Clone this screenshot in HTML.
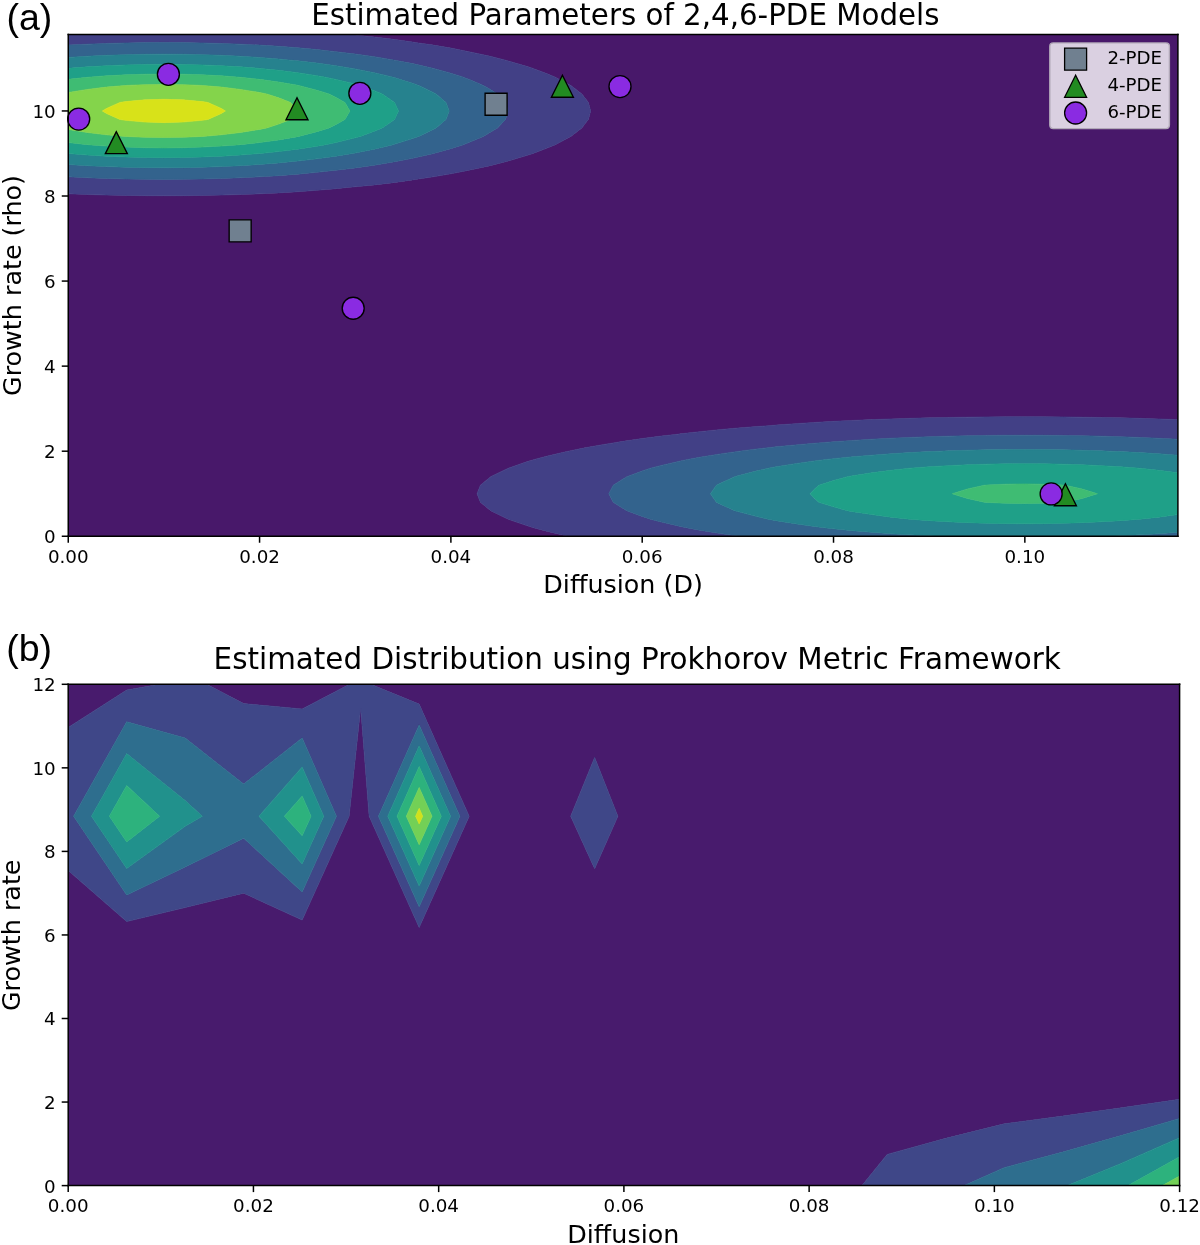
<!DOCTYPE html>
<html><head><meta charset="utf-8"><title>Estimated Parameters</title>
<style>
html,body{margin:0;padding:0;background:#fff;}
body{width:1200px;height:1245px;overflow:hidden;}
svg{display:block;}
</style></head><body>
<svg width="1200" height="1245" viewBox="0 0 1200 1245" version="1.1">
<defs>
<style type="text/css">*{stroke-linejoin: round; stroke-linecap: butt}</style>
</defs>
<g id="figure_1">
<g id="patch_1">
<path d="M 0 1245 L 1200 1245 L 1200 0 L 0 0 z" style="fill: #ffffff"/>
</g>
<g id="axes_1">
<g id="patch_2">
<path d="M 68.25 536.25 L 1177.9 536.25 L 1177.9 34.4 L 68.25 34.4 z" style="fill: #ffffff"/>
</g>
<g id="QuadContourSet_1">
<path d="M 87.38 536.25 L 106.51 536.25 L 125.65 536.25 L 144.78 536.25 L 163.91 536.25 L 183.04 536.25 L 202.17 536.25 L 221.31 536.25 L 240.44 536.25 L 259.57 536.25 L 278.7 536.25 L 297.83 536.25 L 316.96 536.25 L 336.1 536.25 L 355.23 536.25 L 374.36 536.25 L 393.49 536.25 L 412.62 536.25 L 431.76 536.25 L 450.89 536.25 L 470.02 536.25 L 489.15 536.25 L 508.28 536.25 L 527.42 536.25 L 546.55 536.25 L 565.68 536.25 L 568.3 536.25 L 565.68 535.67 L 546.55 531.17 L 533.47 527.74 L 527.42 525.82 L 508.28 519.28 L 508.17 519.24 L 490.7 510.73 L 489.15 509.43 L 480.39 502.23 L 477.05 493.72 L 480.39 485.21 L 489.15 478.01 L 490.7 476.71 L 508.17 468.2 L 508.28 468.16 L 527.42 461.62 L 533.47 459.7 L 546.55 456.27 L 565.68 451.77 L 568.3 451.19 L 584.81 447.85 L 603.94 444.43 L 614.73 442.68 L 623.08 441.35 L 642.21 438.53 L 661.34 436.05 L 677.64 434.18 L 680.47 433.83 L 699.6 431.64 L 718.73 429.7 L 737.87 428 L 757 426.5 L 768.71 425.67 L 776.13 425.07 L 795.26 423.66 L 814.39 422.42 L 833.53 421.34 L 852.66 420.41 L 871.79 419.6 L 890.92 418.9 L 910.05 418.32 L 929.19 417.84 L 948.32 417.45 L 966.61 417.17 L 967.45 417.15 L 986.58 416.88 L 1005.71 416.72 L 1024.84 416.67 L 1043.98 416.72 L 1063.11 416.88 L 1082.24 417.15 L 1083.08 417.17 L 1101.37 417.45 L 1120.5 417.84 L 1139.64 418.32 L 1158.77 418.9 L 1177.9 419.6 L 1177.9 417.17 L 1177.9 408.66 L 1177.9 400.16 L 1177.9 391.65 L 1177.9 383.14 L 1177.9 374.64 L 1177.9 366.13 L 1177.9 357.63 L 1177.9 349.12 L 1177.9 340.61 L 1177.9 332.11 L 1177.9 323.6 L 1177.9 315.1 L 1177.9 306.59 L 1177.9 298.08 L 1177.9 289.58 L 1177.9 281.07 L 1177.9 272.57 L 1177.9 264.06 L 1177.9 255.55 L 1177.9 247.05 L 1177.9 238.54 L 1177.9 230.04 L 1177.9 221.53 L 1177.9 213.02 L 1177.9 204.52 L 1177.9 196.01 L 1177.9 187.51 L 1177.9 179 L 1177.9 170.49 L 1177.9 161.99 L 1177.9 153.48 L 1177.9 144.98 L 1177.9 136.47 L 1177.9 127.97 L 1177.9 119.46 L 1177.9 110.95 L 1177.9 102.45 L 1177.9 93.94 L 1177.9 85.44 L 1177.9 76.93 L 1177.9 68.42 L 1177.9 59.92 L 1177.9 51.41 L 1177.9 42.91 L 1177.9 34.4 L 1158.77 34.4 L 1139.64 34.4 L 1120.5 34.4 L 1101.37 34.4 L 1082.24 34.4 L 1063.11 34.4 L 1043.98 34.4 L 1024.84 34.4 L 1005.71 34.4 L 986.58 34.4 L 967.45 34.4 L 948.32 34.4 L 929.19 34.4 L 910.05 34.4 L 890.92 34.4 L 871.79 34.4 L 852.66 34.4 L 833.53 34.4 L 814.39 34.4 L 795.26 34.4 L 776.13 34.4 L 757 34.4 L 737.87 34.4 L 718.73 34.4 L 699.6 34.4 L 680.47 34.4 L 661.34 34.4 L 642.21 34.4 L 623.08 34.4 L 603.94 34.4 L 584.81 34.4 L 565.68 34.4 L 546.55 34.4 L 527.42 34.4 L 508.28 34.4 L 489.15 34.4 L 470.02 34.4 L 450.89 34.4 L 431.76 34.4 L 412.62 34.4 L 393.49 34.4 L 374.36 34.4 L 355.23 34.4 L 347.32 34.4 L 355.23 35.09 L 374.36 36.99 L 393.49 39.26 L 412.62 41.98 L 418.49 42.91 L 431.76 44.83 L 450.89 48.06 L 467.66 51.41 L 470.02 51.88 L 489.15 55.99 L 504.65 59.92 L 508.28 60.9 L 527.42 66.57 L 533.1 68.42 L 546.55 73.54 L 554.85 76.93 L 565.68 82.64 L 570.88 85.44 L 581.9 93.94 L 584.81 97.87 L 588.45 102.45 L 590.68 110.95 L 588.45 119.46 L 584.81 124.04 L 581.9 127.97 L 570.88 136.47 L 565.68 139.27 L 554.85 144.98 L 546.55 148.37 L 533.1 153.48 L 527.42 155.33 L 508.28 161 L 504.65 161.99 L 489.15 165.92 L 470.02 170.03 L 467.66 170.49 L 450.89 173.85 L 431.76 177.08 L 418.49 179 L 412.62 179.93 L 393.49 182.65 L 374.36 184.92 L 355.23 186.82 L 347.32 187.51 L 336.1 188.66 L 316.96 190.35 L 297.83 191.76 L 278.7 192.9 L 259.57 193.83 L 240.44 194.56 L 221.31 195.11 L 202.17 195.49 L 183.04 195.71 L 163.91 195.79 L 144.78 195.71 L 125.65 195.49 L 106.51 195.11 L 87.38 194.56 L 68.25 193.83 L 68.25 196.01 L 68.25 204.52 L 68.25 213.02 L 68.25 221.53 L 68.25 230.04 L 68.25 238.54 L 68.25 247.05 L 68.25 255.55 L 68.25 264.06 L 68.25 272.57 L 68.25 281.07 L 68.25 289.58 L 68.25 298.08 L 68.25 306.59 L 68.25 315.1 L 68.25 323.6 L 68.25 332.11 L 68.25 340.61 L 68.25 349.12 L 68.25 357.63 L 68.25 366.13 L 68.25 374.64 L 68.25 383.14 L 68.25 391.65 L 68.25 400.16 L 68.25 408.66 L 68.25 417.17 L 68.25 425.67 L 68.25 434.18 L 68.25 442.68 L 68.25 451.19 L 68.25 459.7 L 68.25 468.2 L 68.25 476.71 L 68.25 485.21 L 68.25 493.72 L 68.25 502.23 L 68.25 510.73 L 68.25 519.24 L 68.25 527.74 L 68.25 536.25 z" clip-path="url(#pd47a79ee58)" style="fill: #48186a; stroke: #48186a; stroke-width: 0.6"/>
<path d="M 546.55 531.17 L 565.68 535.67 L 568.3 536.25 L 584.81 536.25 L 603.94 536.25 L 623.08 536.25 L 642.21 536.25 L 661.34 536.25 L 680.47 536.25 L 699.6 536.25 L 718.73 536.25 L 737.87 536.25 L 739.32 536.25 L 737.87 536.05 L 718.73 533.28 L 699.6 530.14 L 686.49 527.74 L 680.47 526.45 L 661.34 522.01 L 650.49 519.24 L 642.21 516.4 L 626.81 510.73 L 623.08 508.44 L 613.2 502.23 L 608.8 493.72 L 613.2 485.21 L 623.08 479 L 626.81 476.71 L 642.21 471.04 L 650.49 468.2 L 661.34 465.43 L 680.47 460.99 L 686.49 459.7 L 699.6 457.3 L 718.73 454.16 L 737.87 451.39 L 739.32 451.19 L 757 448.95 L 776.13 446.8 L 795.26 444.92 L 814.39 443.26 L 821.83 442.68 L 833.53 441.75 L 852.66 440.4 L 871.79 439.23 L 890.92 438.24 L 910.05 437.4 L 929.19 436.71 L 948.32 436.15 L 967.45 435.72 L 986.58 435.42 L 1005.71 435.24 L 1024.84 435.19 L 1043.98 435.24 L 1063.11 435.42 L 1082.24 435.72 L 1101.37 436.15 L 1120.5 436.71 L 1139.64 437.4 L 1158.77 438.24 L 1177.9 439.23 L 1177.9 434.18 L 1177.9 425.67 L 1177.9 419.6 L 1158.77 418.9 L 1139.64 418.32 L 1120.5 417.84 L 1101.37 417.45 L 1083.08 417.17 L 1082.24 417.15 L 1063.11 416.88 L 1043.98 416.72 L 1024.84 416.67 L 1005.71 416.72 L 986.58 416.88 L 967.45 417.15 L 966.61 417.17 L 948.32 417.45 L 929.19 417.84 L 910.05 418.32 L 890.92 418.9 L 871.79 419.6 L 852.66 420.41 L 833.53 421.34 L 814.39 422.42 L 795.26 423.66 L 776.13 425.07 L 768.71 425.67 L 757 426.5 L 737.87 428 L 718.73 429.7 L 699.6 431.64 L 680.47 433.83 L 677.64 434.18 L 661.34 436.05 L 642.21 438.53 L 623.08 441.35 L 614.73 442.68 L 603.94 444.43 L 584.81 447.85 L 568.3 451.19 L 565.68 451.77 L 546.55 456.27 L 533.47 459.7 L 527.42 461.62 L 508.28 468.16 L 508.17 468.2 L 490.7 476.71 L 489.15 478.01 L 480.39 485.21 L 477.05 493.72 L 480.39 502.23 L 489.15 509.43 L 490.7 510.73 L 508.17 519.24 L 508.28 519.28 L 527.42 525.82 L 533.47 527.74 z M 87.38 194.56 L 106.51 195.11 L 125.65 195.49 L 144.78 195.71 L 163.91 195.79 L 183.04 195.71 L 202.17 195.49 L 221.31 195.11 L 240.44 194.56 L 259.57 193.83 L 278.7 192.9 L 297.83 191.76 L 316.96 190.35 L 336.1 188.66 L 347.32 187.51 L 355.23 186.82 L 374.36 184.92 L 393.49 182.65 L 412.62 179.93 L 418.49 179 L 431.76 177.08 L 450.89 173.85 L 467.66 170.49 L 470.02 170.03 L 489.15 165.92 L 504.65 161.99 L 508.28 161 L 527.42 155.33 L 533.1 153.48 L 546.55 148.37 L 554.85 144.98 L 565.68 139.27 L 570.88 136.47 L 581.9 127.97 L 584.81 124.04 L 588.45 119.46 L 590.68 110.95 L 588.45 102.45 L 584.81 97.87 L 581.9 93.94 L 570.88 85.44 L 565.68 82.64 L 554.85 76.93 L 546.55 73.54 L 533.1 68.42 L 527.42 66.57 L 508.28 60.9 L 504.65 59.92 L 489.15 55.99 L 470.02 51.88 L 467.66 51.41 L 450.89 48.06 L 431.76 44.83 L 418.49 42.91 L 412.62 41.98 L 393.49 39.26 L 374.36 36.99 L 355.23 35.09 L 347.32 34.4 L 336.1 34.4 L 316.96 34.4 L 297.83 34.4 L 278.7 34.4 L 259.57 34.4 L 240.44 34.4 L 221.31 34.4 L 202.17 34.4 L 183.04 34.4 L 163.91 34.4 L 144.78 34.4 L 125.65 34.4 L 106.51 34.4 L 87.38 34.4 L 68.25 34.4 L 68.25 42.91 L 68.25 45.07 L 87.38 44.13 L 106.51 43.43 L 125.65 42.94 L 127.66 42.91 L 144.78 42.59 L 163.91 42.47 L 183.04 42.59 L 200.15 42.91 L 202.17 42.94 L 221.31 43.43 L 240.44 44.13 L 259.57 45.07 L 278.7 46.26 L 297.83 47.74 L 316.96 49.54 L 333.56 51.41 L 336.1 51.68 L 355.23 53.96 L 374.36 56.7 L 393.24 59.92 L 393.49 59.96 L 412.62 63.6 L 431.76 67.96 L 433.62 68.42 L 450.89 73.21 L 462.7 76.93 L 470.02 79.79 L 483.44 85.44 L 489.15 88.84 L 497.5 93.94 L 505.55 102.45 L 508.12 110.95 L 505.55 119.46 L 497.5 127.97 L 489.15 133.06 L 483.44 136.47 L 470.02 142.12 L 462.7 144.98 L 450.89 148.7 L 433.62 153.48 L 431.76 153.94 L 412.62 158.3 L 393.49 161.94 L 393.24 161.99 L 374.36 165.21 L 355.23 167.94 L 336.1 170.23 L 333.56 170.49 L 316.96 172.37 L 297.83 174.17 L 278.7 175.65 L 259.57 176.84 L 240.44 177.77 L 221.31 178.48 L 202.17 178.97 L 200.15 179 L 183.04 179.32 L 163.91 179.43 L 144.78 179.32 L 127.66 179 L 125.65 178.97 L 106.51 178.48 L 87.38 177.77 L 68.25 176.84 L 68.25 179 L 68.25 187.51 L 68.25 193.83 z" clip-path="url(#pd47a79ee58)" style="fill: #424086; stroke: #424086; stroke-width: 0.6"/>
<path d="M 699.6 530.14 L 718.73 533.28 L 737.87 536.05 L 739.32 536.25 L 757 536.25 L 776.13 536.25 L 795.26 536.25 L 814.39 536.25 L 833.53 536.25 L 852.66 536.25 L 871.79 536.25 L 890.92 536.25 L 910.05 536.25 L 929.19 536.25 L 939.78 536.25 L 929.19 535.82 L 910.05 534.85 L 890.92 533.67 L 871.79 532.28 L 852.66 530.65 L 833.53 528.77 L 824.32 527.74 L 814.39 526.48 L 795.26 523.76 L 776.13 520.65 L 768.21 519.24 L 757 516.61 L 737.87 511.62 L 734.7 510.73 L 718.73 503.39 L 716.35 502.23 L 710.46 493.72 L 716.35 485.21 L 718.73 484.05 L 734.7 476.71 L 737.87 475.82 L 757 470.83 L 768.21 468.2 L 776.13 466.79 L 795.26 463.68 L 814.39 460.96 L 824.32 459.7 L 833.53 458.67 L 852.66 456.79 L 871.79 455.16 L 890.92 453.77 L 910.05 452.59 L 929.19 451.62 L 939.78 451.19 L 948.32 450.85 L 967.45 450.25 L 986.58 449.83 L 1005.71 449.58 L 1024.84 449.5 L 1043.98 449.58 L 1063.11 449.83 L 1082.24 450.25 L 1101.37 450.85 L 1109.91 451.19 L 1120.5 451.62 L 1139.64 452.59 L 1158.77 453.77 L 1177.9 455.16 L 1177.9 451.19 L 1177.9 442.68 L 1177.9 439.23 L 1158.77 438.24 L 1139.64 437.4 L 1120.5 436.71 L 1101.37 436.15 L 1082.24 435.72 L 1063.11 435.42 L 1043.98 435.24 L 1024.84 435.19 L 1005.71 435.24 L 986.58 435.42 L 967.45 435.72 L 948.32 436.15 L 929.19 436.71 L 910.05 437.4 L 890.92 438.24 L 871.79 439.23 L 852.66 440.4 L 833.53 441.75 L 821.83 442.68 L 814.39 443.26 L 795.26 444.92 L 776.13 446.8 L 757 448.95 L 739.32 451.19 L 737.87 451.39 L 718.73 454.16 L 699.6 457.3 L 686.49 459.7 L 680.47 460.99 L 661.34 465.43 L 650.49 468.2 L 642.21 471.04 L 626.81 476.71 L 623.08 479 L 613.2 485.21 L 608.8 493.72 L 613.2 502.23 L 623.08 508.44 L 626.81 510.73 L 642.21 516.4 L 650.49 519.24 L 661.34 522.01 L 680.47 526.45 L 686.49 527.74 z M 1120.5 536.25 L 1139.64 536.25 L 1158.77 536.25 L 1177.9 536.25 L 1177.9 532.28 L 1158.77 533.67 L 1139.64 534.85 L 1120.5 535.82 L 1109.91 536.25 z M 144.78 179.32 L 163.91 179.43 L 183.04 179.32 L 200.15 179 L 202.17 178.97 L 221.31 178.48 L 240.44 177.77 L 259.57 176.84 L 278.7 175.65 L 297.83 174.17 L 316.96 172.37 L 333.56 170.49 L 336.1 170.23 L 355.23 167.94 L 374.36 165.21 L 393.24 161.99 L 393.49 161.94 L 412.62 158.3 L 431.76 153.94 L 433.62 153.48 L 450.89 148.7 L 462.7 144.98 L 470.02 142.12 L 483.44 136.47 L 489.15 133.06 L 497.5 127.97 L 505.55 119.46 L 508.12 110.95 L 505.55 102.45 L 497.5 93.94 L 489.15 88.84 L 483.44 85.44 L 470.02 79.79 L 462.7 76.93 L 450.89 73.21 L 433.62 68.42 L 431.76 67.96 L 412.62 63.6 L 393.49 59.96 L 393.24 59.92 L 374.36 56.7 L 355.23 53.96 L 336.1 51.68 L 333.56 51.41 L 316.96 49.54 L 297.83 47.74 L 278.7 46.26 L 259.57 45.07 L 240.44 44.13 L 221.31 43.43 L 202.17 42.94 L 200.15 42.91 L 183.04 42.59 L 163.91 42.47 L 144.78 42.59 L 127.66 42.91 L 125.65 42.94 L 106.51 43.43 L 87.38 44.13 L 68.25 45.07 L 68.25 51.41 L 68.25 57.43 L 87.38 56.21 L 106.51 55.28 L 125.65 54.64 L 144.78 54.26 L 163.91 54.13 L 183.04 54.26 L 202.17 54.64 L 221.31 55.28 L 240.44 56.21 L 259.57 57.43 L 278.7 58.99 L 288.12 59.92 L 297.83 60.85 L 316.96 63.05 L 336.1 65.7 L 352.61 68.42 L 355.23 68.89 L 374.36 72.71 L 392.15 76.93 L 393.49 77.31 L 412.62 83.31 L 418.74 85.44 L 431.76 91.71 L 436.11 93.94 L 446.03 102.45 L 449.21 110.95 L 446.03 119.46 L 436.11 127.97 L 431.76 130.19 L 418.74 136.47 L 412.62 138.6 L 393.49 144.59 L 392.15 144.98 L 374.36 149.2 L 355.23 153.02 L 352.61 153.48 L 336.1 156.2 L 316.96 158.86 L 297.83 161.05 L 288.12 161.99 L 278.7 162.92 L 259.57 164.48 L 240.44 165.7 L 221.31 166.62 L 202.17 167.27 L 183.04 167.65 L 163.91 167.77 L 144.78 167.65 L 125.65 167.27 L 106.51 166.62 L 87.38 165.7 L 68.25 164.48 L 68.25 170.49 L 68.25 176.84 L 87.38 177.77 L 106.51 178.48 L 125.65 178.97 L 127.66 179 z" clip-path="url(#pd47a79ee58)" style="fill: #33638d; stroke: #33638d; stroke-width: 0.6"/>
<path d="M 833.53 528.77 L 852.66 530.65 L 871.79 532.28 L 890.92 533.67 L 910.05 534.85 L 929.19 535.82 L 939.78 536.25 L 948.32 536.25 L 967.45 536.25 L 986.58 536.25 L 1005.71 536.25 L 1024.84 536.25 L 1043.98 536.25 L 1063.11 536.25 L 1082.24 536.25 L 1101.37 536.25 L 1109.91 536.25 L 1120.5 535.82 L 1139.64 534.85 L 1158.77 533.67 L 1177.9 532.28 L 1177.9 527.74 L 1177.9 519.24 L 1177.9 514.61 L 1158.77 517.13 L 1139.87 519.24 L 1139.64 519.26 L 1120.5 520.67 L 1101.37 521.81 L 1082.24 522.68 L 1063.11 523.29 L 1043.98 523.66 L 1024.84 523.78 L 1005.71 523.66 L 986.58 523.29 L 967.45 522.68 L 948.32 521.81 L 929.19 520.67 L 910.05 519.26 L 909.82 519.24 L 890.92 517.13 L 871.79 514.61 L 852.66 511.65 L 847.39 510.73 L 833.53 506.87 L 818.74 502.23 L 814.39 498.13 L 810.03 493.72 L 814.39 489.31 L 818.74 485.21 L 833.53 480.57 L 847.39 476.71 L 852.66 475.79 L 871.79 472.83 L 890.92 470.31 L 909.82 468.2 L 910.05 468.18 L 929.19 466.77 L 948.32 465.63 L 967.45 464.76 L 986.58 464.15 L 1005.71 463.78 L 1024.84 463.66 L 1043.98 463.78 L 1063.11 464.15 L 1082.24 464.76 L 1101.37 465.63 L 1120.5 466.77 L 1139.64 468.18 L 1139.87 468.2 L 1158.77 470.31 L 1177.9 472.83 L 1177.9 468.2 L 1177.9 459.7 L 1177.9 455.16 L 1158.77 453.77 L 1139.64 452.59 L 1120.5 451.62 L 1109.91 451.19 L 1101.37 450.85 L 1082.24 450.25 L 1063.11 449.83 L 1043.98 449.58 L 1024.84 449.5 L 1005.71 449.58 L 986.58 449.83 L 967.45 450.25 L 948.32 450.85 L 939.78 451.19 L 929.19 451.62 L 910.05 452.59 L 890.92 453.77 L 871.79 455.16 L 852.66 456.79 L 833.53 458.67 L 824.32 459.7 L 814.39 460.96 L 795.26 463.68 L 776.13 466.79 L 768.21 468.2 L 757 470.83 L 737.87 475.82 L 734.7 476.71 L 718.73 484.05 L 716.35 485.21 L 710.46 493.72 L 716.35 502.23 L 718.73 503.39 L 734.7 510.73 L 737.87 511.62 L 757 516.61 L 768.21 519.24 L 776.13 520.65 L 795.26 523.76 L 814.39 526.48 L 824.32 527.74 z M 87.38 165.7 L 106.51 166.62 L 125.65 167.27 L 144.78 167.65 L 163.91 167.77 L 183.04 167.65 L 202.17 167.27 L 221.31 166.62 L 240.44 165.7 L 259.57 164.48 L 278.7 162.92 L 288.12 161.99 L 297.83 161.05 L 316.96 158.86 L 336.1 156.2 L 352.61 153.48 L 355.23 153.02 L 374.36 149.2 L 392.15 144.98 L 393.49 144.59 L 412.62 138.6 L 418.74 136.47 L 431.76 130.19 L 436.11 127.97 L 446.03 119.46 L 449.21 110.95 L 446.03 102.45 L 436.11 93.94 L 431.76 91.71 L 418.74 85.44 L 412.62 83.31 L 393.49 77.31 L 392.15 76.93 L 374.36 72.71 L 355.23 68.89 L 352.61 68.42 L 336.1 65.7 L 316.96 63.05 L 297.83 60.85 L 288.12 59.92 L 278.7 58.99 L 259.57 57.43 L 240.44 56.21 L 221.31 55.28 L 202.17 54.64 L 183.04 54.26 L 163.91 54.13 L 144.78 54.26 L 125.65 54.64 L 106.51 55.28 L 87.38 56.21 L 68.25 57.43 L 68.25 59.92 L 68.25 68.36 L 87.38 66.84 L 106.51 65.69 L 125.65 64.89 L 144.78 64.42 L 163.91 64.26 L 183.04 64.42 L 202.17 64.89 L 221.31 65.69 L 240.44 66.84 L 259.57 68.36 L 260.27 68.42 L 278.7 70.29 L 297.83 72.69 L 316.96 75.63 L 324.31 76.93 L 336.1 79.38 L 355.23 84.05 L 360.3 85.44 L 374.36 90.64 L 382.39 93.94 L 393.49 101.63 L 394.61 102.45 L 398.57 110.95 L 394.61 119.46 L 393.49 120.27 L 382.39 127.97 L 374.36 131.26 L 360.3 136.47 L 355.23 137.86 L 336.1 142.52 L 324.31 144.98 L 316.96 146.28 L 297.83 149.21 L 278.7 151.61 L 260.27 153.48 L 259.57 153.55 L 240.44 155.07 L 221.31 156.22 L 202.17 157.02 L 183.04 157.49 L 163.91 157.64 L 144.78 157.49 L 125.65 157.02 L 106.51 156.22 L 87.38 155.07 L 68.25 153.55 L 68.25 161.99 L 68.25 164.48 z" clip-path="url(#pd47a79ee58)" style="fill: #26828e; stroke: #26828e; stroke-width: 0.6"/>
<path d="M 910.05 519.26 L 929.19 520.67 L 948.32 521.81 L 967.45 522.68 L 986.58 523.29 L 1005.71 523.66 L 1024.84 523.78 L 1043.98 523.66 L 1063.11 523.29 L 1082.24 522.68 L 1101.37 521.81 L 1120.5 520.67 L 1139.64 519.26 L 1139.87 519.24 L 1158.77 517.13 L 1177.9 514.61 L 1177.9 510.73 L 1177.9 502.23 L 1177.9 493.72 L 1177.9 485.21 L 1177.9 476.71 L 1177.9 472.83 L 1158.77 470.31 L 1139.87 468.2 L 1139.64 468.18 L 1120.5 466.77 L 1101.37 465.63 L 1082.24 464.76 L 1063.11 464.15 L 1043.98 463.78 L 1024.84 463.66 L 1005.71 463.78 L 986.58 464.15 L 967.45 464.76 L 948.32 465.63 L 929.19 466.77 L 910.05 468.18 L 909.82 468.2 L 890.92 470.31 L 871.79 472.83 L 852.66 475.79 L 847.39 476.71 L 833.53 480.57 L 818.74 485.21 L 814.39 489.31 L 810.03 493.72 L 814.39 498.13 L 818.74 502.23 L 833.53 506.87 L 847.39 510.73 L 852.66 511.65 L 871.79 514.61 L 890.92 517.13 L 909.82 519.24 z M 984.33 502.23 L 967.45 498.49 L 952.16 493.72 L 967.45 488.95 L 984.33 485.21 L 986.58 485.04 L 1005.71 484.17 L 1024.84 483.88 L 1043.98 484.17 L 1063.11 485.04 L 1065.36 485.21 L 1082.24 488.95 L 1097.53 493.72 L 1082.24 498.49 L 1065.36 502.23 L 1063.11 502.4 L 1043.98 503.27 L 1024.84 503.56 L 1005.71 503.27 L 986.58 502.4 z M 87.38 155.07 L 106.51 156.22 L 125.65 157.02 L 144.78 157.49 L 163.91 157.64 L 183.04 157.49 L 202.17 157.02 L 221.31 156.22 L 240.44 155.07 L 259.57 153.55 L 260.27 153.48 L 278.7 151.61 L 297.83 149.21 L 316.96 146.28 L 324.31 144.98 L 336.1 142.52 L 355.23 137.86 L 360.3 136.47 L 374.36 131.26 L 382.39 127.97 L 393.49 120.27 L 394.61 119.46 L 398.57 110.95 L 394.61 102.45 L 393.49 101.63 L 382.39 93.94 L 374.36 90.64 L 360.3 85.44 L 355.23 84.05 L 336.1 79.38 L 324.31 76.93 L 316.96 75.63 L 297.83 72.69 L 278.7 70.29 L 260.27 68.42 L 259.57 68.36 L 240.44 66.84 L 221.31 65.69 L 202.17 64.89 L 183.04 64.42 L 163.91 64.26 L 144.78 64.42 L 125.65 64.89 L 106.51 65.69 L 87.38 66.84 L 68.25 68.36 L 68.25 68.42 L 68.25 76.93 L 68.25 79.33 L 87.38 77.25 L 91.14 76.93 L 106.51 75.78 L 125.65 74.78 L 144.78 74.19 L 163.91 74 L 183.04 74.19 L 202.17 74.78 L 221.31 75.78 L 236.68 76.93 L 240.44 77.25 L 259.57 79.33 L 278.7 81.99 L 297.83 85.28 L 298.63 85.44 L 316.96 90.23 L 329.06 93.94 L 336.1 97.5 L 344.95 102.45 L 349.95 110.95 L 344.95 119.46 L 336.1 124.4 L 329.06 127.97 L 316.96 131.68 L 298.63 136.47 L 297.83 136.63 L 278.7 139.92 L 259.57 142.57 L 240.44 144.66 L 236.68 144.98 L 221.31 146.12 L 202.17 147.12 L 183.04 147.71 L 163.91 147.91 L 144.78 147.71 L 125.65 147.12 L 106.51 146.12 L 91.14 144.98 L 87.38 144.66 L 68.25 142.57 L 68.25 144.98 L 68.25 153.48 L 68.25 153.55 z" clip-path="url(#pd47a79ee58)" style="fill: #1fa088; stroke: #1fa088; stroke-width: 0.6"/>
<path d="M 986.58 502.4 L 1005.71 503.27 L 1024.84 503.56 L 1043.98 503.27 L 1063.11 502.4 L 1065.36 502.23 L 1082.24 498.49 L 1097.53 493.72 L 1082.24 488.95 L 1065.36 485.21 L 1063.11 485.04 L 1043.98 484.17 L 1024.84 483.88 L 1005.71 484.17 L 986.58 485.04 L 984.33 485.21 L 967.45 488.95 L 952.16 493.72 L 967.45 498.49 L 984.33 502.23 z M 106.51 146.12 L 125.65 147.12 L 144.78 147.71 L 163.91 147.91 L 183.04 147.71 L 202.17 147.12 L 221.31 146.12 L 236.68 144.98 L 240.44 144.66 L 259.57 142.57 L 278.7 139.92 L 297.83 136.63 L 298.63 136.47 L 316.96 131.68 L 329.06 127.97 L 336.1 124.4 L 344.95 119.46 L 349.95 110.95 L 344.95 102.45 L 336.1 97.5 L 329.06 93.94 L 316.96 90.23 L 298.63 85.44 L 297.83 85.28 L 278.7 81.99 L 259.57 79.33 L 240.44 77.25 L 236.68 76.93 L 221.31 75.78 L 202.17 74.78 L 183.04 74.19 L 163.91 74 L 144.78 74.19 L 125.65 74.78 L 106.51 75.78 L 91.14 76.93 L 87.38 77.25 L 68.25 79.33 L 68.25 85.44 L 68.25 92.51 L 87.38 89.4 L 106.51 87.06 L 125.53 85.44 L 125.65 85.43 L 144.78 84.65 L 163.91 84.39 L 183.04 84.65 L 202.17 85.43 L 202.28 85.44 L 221.31 87.06 L 240.44 89.4 L 259.57 92.51 L 266.67 93.94 L 278.7 97.83 L 290.63 102.45 L 297.83 110.9 L 297.87 110.95 L 297.83 111 L 290.63 119.46 L 278.7 124.08 L 266.67 127.97 L 259.57 129.39 L 240.44 132.5 L 221.31 134.85 L 202.28 136.47 L 202.17 136.48 L 183.04 137.26 L 163.91 137.51 L 144.78 137.26 L 125.65 136.48 L 125.53 136.47 L 106.51 134.85 L 87.38 132.5 L 68.25 129.39 L 68.25 136.47 L 68.25 142.57 L 87.38 144.66 L 91.14 144.98 z" clip-path="url(#pd47a79ee58)" style="fill: #3fbc73; stroke: #3fbc73; stroke-width: 0.6"/>
<path d="M 125.65 136.48 L 144.78 137.26 L 163.91 137.51 L 183.04 137.26 L 202.17 136.48 L 202.28 136.47 L 221.31 134.85 L 240.44 132.5 L 259.57 129.39 L 266.67 127.97 L 278.7 124.08 L 290.63 119.46 L 297.83 111 L 297.87 110.95 L 297.83 110.9 L 290.63 102.45 L 278.7 97.83 L 266.67 93.94 L 259.57 92.51 L 240.44 89.4 L 221.31 87.06 L 202.28 85.44 L 202.17 85.43 L 183.04 84.65 L 163.91 84.39 L 144.78 84.65 L 125.65 85.43 L 125.53 85.44 L 106.51 87.06 L 87.38 89.4 L 68.25 92.51 L 68.25 93.94 L 68.25 102.45 L 68.25 110.95 L 68.25 119.46 L 68.25 127.97 L 68.25 129.39 L 87.38 132.5 L 106.51 134.85 L 125.53 136.47 z M 119.9 119.46 L 106.51 113.51 L 102.39 110.95 L 106.51 108.4 L 119.9 102.45 L 125.65 101.58 L 144.78 99.85 L 163.91 99.27 L 183.04 99.85 L 202.17 101.58 L 207.92 102.45 L 221.31 108.4 L 225.43 110.95 L 221.31 113.51 L 207.92 119.46 L 202.17 120.33 L 183.04 122.06 L 163.91 122.63 L 144.78 122.06 L 125.65 120.33 z" clip-path="url(#pd47a79ee58)" style="fill: #84d44b; stroke: #84d44b; stroke-width: 0.6"/>
<path d="M 125.65 120.33 L 144.78 122.06 L 163.91 122.63 L 183.04 122.06 L 202.17 120.33 L 207.92 119.46 L 221.31 113.51 L 225.43 110.95 L 221.31 108.4 L 207.92 102.45 L 202.17 101.58 L 183.04 99.85 L 163.91 99.27 L 144.78 99.85 L 125.65 101.58 L 119.9 102.45 L 106.51 108.4 L 102.39 110.95 L 106.51 113.51 L 119.9 119.46 z" clip-path="url(#pd47a79ee58)" style="fill: #d8e219; stroke: #d8e219; stroke-width: 0.6"/>
</g>
<g id="matplotlib.axis_1">
<g id="xtick_1">
<g id="line2d_1">

<g>
<path d="M 0 0 L 0 6.5" transform="translate(68.25 536.25)" style="stroke: #000000; stroke-width: 1.5"/>
</g>
</g>
<g id="text_1">
<text style="font-size: 18.3px; font-family: 'DejaVu Sans', 'Liberation Sans', sans-serif; text-anchor: middle" x="68.25" y="562.655141" >0.00</text>
</g>
</g>
<g id="xtick_2">
<g id="line2d_2">
<g>
<path d="M 0 0 L 0 6.5" transform="translate(259.568966 536.25)" style="stroke: #000000; stroke-width: 1.5"/>
</g>
</g>
<g id="text_2">
<text style="font-size: 18.3px; font-family: 'DejaVu Sans', 'Liberation Sans', sans-serif; text-anchor: middle" x="259.568966" y="562.655141" >0.02</text>
</g>
</g>
<g id="xtick_3">
<g id="line2d_3">
<g>
<path d="M 0 0 L 0 6.5" transform="translate(450.887931 536.25)" style="stroke: #000000; stroke-width: 1.5"/>
</g>
</g>
<g id="text_3">
<text style="font-size: 18.3px; font-family: 'DejaVu Sans', 'Liberation Sans', sans-serif; text-anchor: middle" x="450.887931" y="562.655141" >0.04</text>
</g>
</g>
<g id="xtick_4">
<g id="line2d_4">
<g>
<path d="M 0 0 L 0 6.5" transform="translate(642.206897 536.25)" style="stroke: #000000; stroke-width: 1.5"/>
</g>
</g>
<g id="text_4">
<text style="font-size: 18.3px; font-family: 'DejaVu Sans', 'Liberation Sans', sans-serif; text-anchor: middle" x="642.206897" y="562.655141" >0.06</text>
</g>
</g>
<g id="xtick_5">
<g id="line2d_5">
<g>
<path d="M 0 0 L 0 6.5" transform="translate(833.525862 536.25)" style="stroke: #000000; stroke-width: 1.5"/>
</g>
</g>
<g id="text_5">
<text style="font-size: 18.3px; font-family: 'DejaVu Sans', 'Liberation Sans', sans-serif; text-anchor: middle" x="833.525862" y="562.655141" >0.08</text>
</g>
</g>
<g id="xtick_6">
<g id="line2d_6">
<g>
<path d="M 0 0 L 0 6.5" transform="translate(1024.844828 536.25)" style="stroke: #000000; stroke-width: 1.5"/>
</g>
</g>
<g id="text_6">
<text style="font-size: 18.3px; font-family: 'DejaVu Sans', 'Liberation Sans', sans-serif; text-anchor: middle" x="1024.844828" y="562.655141" >0.10</text>
</g>
</g>
</g>
<g id="matplotlib.axis_2">
<g id="ytick_1">
<g id="line2d_7">

<g>
<path d="M 0 0 L -6.5 0" transform="translate(68.25 536.25)" style="stroke: #000000; stroke-width: 1.5"/>
</g>
</g>
<g id="text_7">
<text style="font-size: 18.3px; font-family: 'DejaVu Sans', 'Liberation Sans', sans-serif; text-anchor: end" x="55.75" y="543.20257" >0</text>
</g>
</g>
<g id="ytick_2">
<g id="line2d_8">
<g>
<path d="M 0 0 L -6.5 0" transform="translate(68.25 451.190678)" style="stroke: #000000; stroke-width: 1.5"/>
</g>
</g>
<g id="text_8">
<text style="font-size: 18.3px; font-family: 'DejaVu Sans', 'Liberation Sans', sans-serif; text-anchor: end" x="55.75" y="458.143248" >2</text>
</g>
</g>
<g id="ytick_3">
<g id="line2d_9">
<g>
<path d="M 0 0 L -6.5 0" transform="translate(68.25 366.131356)" style="stroke: #000000; stroke-width: 1.5"/>
</g>
</g>
<g id="text_9">
<text style="font-size: 18.3px; font-family: 'DejaVu Sans', 'Liberation Sans', sans-serif; text-anchor: end" x="55.75" y="373.083926" >4</text>
</g>
</g>
<g id="ytick_4">
<g id="line2d_10">
<g>
<path d="M 0 0 L -6.5 0" transform="translate(68.25 281.072034)" style="stroke: #000000; stroke-width: 1.5"/>
</g>
</g>
<g id="text_10">
<text style="font-size: 18.3px; font-family: 'DejaVu Sans', 'Liberation Sans', sans-serif; text-anchor: end" x="55.75" y="288.024604" >6</text>
</g>
</g>
<g id="ytick_5">
<g id="line2d_11">
<g>
<path d="M 0 0 L -6.5 0" transform="translate(68.25 196.012712)" style="stroke: #000000; stroke-width: 1.5"/>
</g>
</g>
<g id="text_11">
<text style="font-size: 18.3px; font-family: 'DejaVu Sans', 'Liberation Sans', sans-serif; text-anchor: end" x="55.75" y="202.965282" >8</text>
</g>
</g>
<g id="ytick_6">
<g id="line2d_12">
<g>
<path d="M 0 0 L -6.5 0" transform="translate(68.25 110.95339)" style="stroke: #000000; stroke-width: 1.5"/>
</g>
</g>
<g id="text_12">
<text style="font-size: 18.3px; font-family: 'DejaVu Sans', 'Liberation Sans', sans-serif; text-anchor: end" x="55.75" y="117.90596" >10</text>
</g>
</g>
</g>
<g id="line2d_13">

<g>
<path d="M -11 11 L 11 11 L 11 -11 L -11 -11 z" transform="translate(496.1 104.25)" style="fill: #708090; stroke: #000000; stroke-width: 1.35; stroke-linejoin: miter"/>
<path d="M -11 11 L 11 11 L 11 -11 L -11 -11 z" transform="translate(240.15 230.8)" style="fill: #708090; stroke: #000000; stroke-width: 1.35; stroke-linejoin: miter"/>
</g>
</g>
<g id="line2d_14">

<g>
<path d="M 0 -11 L -11 11 L 11 11 z" transform="translate(116.35 142.65)" style="fill: #228b22; stroke: #000000; stroke-width: 1.35; stroke-linejoin: miter"/>
<path d="M 0 -11 L -11 11 L 11 11 z" transform="translate(297 108.7)" style="fill: #228b22; stroke: #000000; stroke-width: 1.35; stroke-linejoin: miter"/>
<path d="M 0 -11 L -11 11 L 11 11 z" transform="translate(562.4 86.25)" style="fill: #228b22; stroke: #000000; stroke-width: 1.35; stroke-linejoin: miter"/>
<path d="M 0 -11 L -11 11 L 11 11 z" transform="translate(1065.4 494.7)" style="fill: #228b22; stroke: #000000; stroke-width: 1.35; stroke-linejoin: miter"/>
</g>
</g>
<g id="line2d_15">

<g>
<path d="M 0 11 C 2.92 11 5.72 9.84 7.78 7.78 C 9.84 5.72 11 2.92 11 0 C 11 -2.92 9.84 -5.72 7.78 -7.78 C 5.72 -9.84 2.92 -11 0 -11 C -2.92 -11 -5.72 -9.84 -7.78 -7.78 C -9.84 -5.72 -11 -2.92 -11 0 C -11 2.92 -9.84 5.72 -7.78 7.78 C -5.72 9.84 -2.92 11 0 11 z" transform="translate(78.7 119.1)" style="fill: #8a2be2; stroke: #000000; stroke-width: 1.35"/>
<path d="M 0 11 C 2.92 11 5.72 9.84 7.78 7.78 C 9.84 5.72 11 2.92 11 0 C 11 -2.92 9.84 -5.72 7.78 -7.78 C 5.72 -9.84 2.92 -11 0 -11 C -2.92 -11 -5.72 -9.84 -7.78 -7.78 C -9.84 -5.72 -11 -2.92 -11 0 C -11 2.92 -9.84 5.72 -7.78 7.78 C -5.72 9.84 -2.92 11 0 11 z" transform="translate(168.4 74.3)" style="fill: #8a2be2; stroke: #000000; stroke-width: 1.35"/>
<path d="M 0 11 C 2.92 11 5.72 9.84 7.78 7.78 C 9.84 5.72 11 2.92 11 0 C 11 -2.92 9.84 -5.72 7.78 -7.78 C 5.72 -9.84 2.92 -11 0 -11 C -2.92 -11 -5.72 -9.84 -7.78 -7.78 C -9.84 -5.72 -11 -2.92 -11 0 C -11 2.92 -9.84 5.72 -7.78 7.78 C -5.72 9.84 -2.92 11 0 11 z" transform="translate(359.85 93.3)" style="fill: #8a2be2; stroke: #000000; stroke-width: 1.35"/>
<path d="M 0 11 C 2.92 11 5.72 9.84 7.78 7.78 C 9.84 5.72 11 2.92 11 0 C 11 -2.92 9.84 -5.72 7.78 -7.78 C 5.72 -9.84 2.92 -11 0 -11 C -2.92 -11 -5.72 -9.84 -7.78 -7.78 C -9.84 -5.72 -11 -2.92 -11 0 C -11 2.92 -9.84 5.72 -7.78 7.78 C -5.72 9.84 -2.92 11 0 11 z" transform="translate(620 86.6)" style="fill: #8a2be2; stroke: #000000; stroke-width: 1.35"/>
<path d="M 0 11 C 2.92 11 5.72 9.84 7.78 7.78 C 9.84 5.72 11 2.92 11 0 C 11 -2.92 9.84 -5.72 7.78 -7.78 C 5.72 -9.84 2.92 -11 0 -11 C -2.92 -11 -5.72 -9.84 -7.78 -7.78 C -9.84 -5.72 -11 -2.92 -11 0 C -11 2.92 -9.84 5.72 -7.78 7.78 C -5.72 9.84 -2.92 11 0 11 z" transform="translate(353.2 308.3)" style="fill: #8a2be2; stroke: #000000; stroke-width: 1.35"/>
<path d="M 0 11 C 2.92 11 5.72 9.84 7.78 7.78 C 9.84 5.72 11 2.92 11 0 C 11 -2.92 9.84 -5.72 7.78 -7.78 C 5.72 -9.84 2.92 -11 0 -11 C -2.92 -11 -5.72 -9.84 -7.78 -7.78 C -9.84 -5.72 -11 -2.92 -11 0 C -11 2.92 -9.84 5.72 -7.78 7.78 C -5.72 9.84 -2.92 11 0 11 z" transform="translate(1051.15 493.9)" style="fill: #8a2be2; stroke: #000000; stroke-width: 1.35"/>
</g>
</g>
<g id="patch_3">
<path d="M 68.25 536.25 L 68.25 34.4" style="fill: none; stroke: #000000; stroke-width: 1.5; stroke-linejoin: miter; stroke-linecap: square"/>
</g>
<g id="patch_4">
<path d="M 1177.9 536.25 L 1177.9 34.4" style="fill: none; stroke: #000000; stroke-width: 1.5; stroke-linejoin: miter; stroke-linecap: square"/>
</g>
<g id="patch_5">
<path d="M 68.25 536.25 L 1177.9 536.25" style="fill: none; stroke: #000000; stroke-width: 1.5; stroke-linejoin: miter; stroke-linecap: square"/>
</g>
<g id="patch_6">
<path d="M 68.25 34.4 L 1177.9 34.4" style="fill: none; stroke: #000000; stroke-width: 1.5; stroke-linejoin: miter; stroke-linecap: square"/>
</g>
</g>
<g id="axes_2">
<g id="patch_7">
<path d="M 68.2 1185.6 L 1179.6 1185.6 L 1179.6 684.3 L 68.2 684.3 z" style="fill: #ffffff"/>
</g>
<g id="QuadContourSet_2">
<path d="M 126.69 1185.6 L 185.19 1185.6 L 243.68 1185.6 L 302.18 1185.6 L 360.67 1185.6 L 419.17 1185.6 L 477.66 1185.6 L 536.16 1185.6 L 594.65 1185.6 L 653.15 1185.6 L 711.64 1185.6 L 770.14 1185.6 L 828.63 1185.6 L 861.93 1185.6 L 887.13 1154.38 L 945.62 1138.37 L 1004.12 1123.85 L 1062.61 1116.08 L 1121.11 1107.84 L 1179.6 1099.25 L 1179.6 1080.06 L 1179.6 948.14 L 1179.6 816.22 L 1179.6 684.3 L 1121.11 684.3 L 1062.61 684.3 L 1004.12 684.3 L 945.62 684.3 L 887.13 684.3 L 828.63 684.3 L 770.14 684.3 L 711.64 684.3 L 653.15 684.3 L 594.65 684.3 L 536.16 684.3 L 477.66 684.3 L 419.17 684.3 L 370.85 684.3 L 419.17 704.1 L 469.2 816.22 L 419.17 927.46 L 369.14 816.22 L 360.67 708.07 L 349.13 816.22 L 302.18 920.07 L 243.68 893.17 L 185.19 907.55 L 126.69 921.6 L 68.2 870.54 L 68.2 948.14 L 68.2 1080.06 L 68.2 1185.6 z M 570.67 816.22 L 594.65 757.39 L 617.91 816.22 L 594.65 868.67 z M 126.69 690.02 L 159.6 684.3 L 126.69 684.3 L 68.2 684.3 L 68.2 727.43 z M 243.68 703.61 L 302.18 708.94 L 349.53 684.3 L 302.18 684.3 L 243.68 684.3 L 206.74 684.3 z" clip-path="url(#p577dcd166d)" style="fill: #481b6d; stroke: #481b6d; stroke-width: 0.6"/>
<path d="M 887.13 1185.6 L 945.62 1185.6 L 964.14 1185.6 L 1004.12 1167.65 L 1062.61 1152.1 L 1121.11 1135.61 L 1179.6 1118.44 L 1179.6 1099.25 L 1121.11 1107.84 L 1062.61 1116.08 L 1004.12 1123.85 L 945.62 1138.37 L 887.13 1154.38 L 861.93 1185.6 z M 126.69 921.6 L 185.19 907.55 L 243.68 893.17 L 302.18 920.07 L 349.13 816.22 L 360.67 708.07 L 369.14 816.22 L 419.17 927.46 L 469.2 816.22 L 419.17 704.1 L 370.85 684.3 L 360.67 684.3 L 349.53 684.3 L 302.18 708.94 L 243.68 703.61 L 206.74 684.3 L 185.19 684.3 L 159.6 684.3 L 126.69 690.02 L 68.2 727.43 L 68.2 816.22 L 68.2 870.54 z M 73.57 816.22 L 126.69 721.81 L 185.19 738.07 L 243.68 784.05 L 302.18 737.94 L 336.44 816.22 L 302.18 892.01 L 243.68 838.21 L 185.19 866.96 L 126.69 895.06 z M 378.44 816.22 L 419.17 724.94 L 459.9 816.22 L 419.17 906.79 z M 594.65 868.67 L 617.91 816.22 L 594.65 757.39 L 570.67 816.22 z" clip-path="url(#p577dcd166d)" style="fill: #3f4788; stroke: #3f4788; stroke-width: 0.6"/>
<path d="M 1004.12 1185.6 L 1062.61 1185.6 L 1067.32 1185.6 L 1121.11 1163.38 L 1179.6 1137.63 L 1179.6 1118.44 L 1121.11 1135.61 L 1062.61 1152.1 L 1004.12 1167.65 L 964.14 1185.6 z M 126.69 895.06 L 185.19 866.96 L 243.68 838.21 L 302.18 892.01 L 336.44 816.22 L 302.18 737.94 L 243.68 784.05 L 185.19 738.07 L 126.69 721.81 L 73.57 816.22 z M 91.45 816.22 L 126.69 753.6 L 185.19 800.59 L 202.39 816.22 L 185.19 826.37 L 126.69 868.51 z M 258.94 816.22 L 302.18 766.93 L 323.75 816.22 L 302.18 863.94 z M 419.17 906.79 L 459.9 816.22 L 419.17 724.94 L 378.44 816.22 z M 387.74 816.22 L 419.17 745.78 L 450.6 816.22 L 419.17 886.11 z" clip-path="url(#p577dcd166d)" style="fill: #2e6e8e; stroke: #2e6e8e; stroke-width: 0.6"/>
<path d="M 1121.11 1185.6 L 1127.99 1185.6 L 1179.6 1156.82 L 1179.6 1137.63 L 1121.11 1163.38 L 1067.32 1185.6 z M 126.69 868.51 L 185.19 826.37 L 202.39 816.22 L 185.19 800.59 L 126.69 753.6 L 91.45 816.22 z M 109.34 816.22 L 126.69 785.39 L 159.68 816.22 L 126.69 841.97 z M 302.18 863.94 L 323.75 816.22 L 302.18 766.93 L 258.94 816.22 z M 284.38 816.22 L 302.18 795.93 L 311.06 816.22 L 302.18 835.87 z M 419.17 886.11 L 450.6 816.22 L 419.17 745.78 L 387.74 816.22 z M 397.04 816.22 L 419.17 766.62 L 441.3 816.22 L 419.17 865.43 z" clip-path="url(#p577dcd166d)" style="fill: #21918c; stroke: #21918c; stroke-width: 0.6"/>
<path d="M 1179.6 1176.01 L 1179.6 1156.82 L 1127.99 1185.6 L 1162.4 1185.6 z M 126.69 841.97 L 159.68 816.22 L 126.69 785.39 L 109.34 816.22 z M 302.18 835.87 L 311.06 816.22 L 302.18 795.93 L 284.38 816.22 z M 419.17 865.43 L 441.3 816.22 L 419.17 766.62 L 397.04 816.22 z M 406.33 816.22 L 419.17 787.46 L 432 816.22 L 419.17 844.76 z" clip-path="url(#p577dcd166d)" style="fill: #2db27d; stroke: #2db27d; stroke-width: 0.6"/>
<path d="M 1179.6 1185.6 L 1179.6 1176.01 L 1162.4 1185.6 z M 419.17 844.76 L 432 816.22 L 419.17 787.46 L 406.33 816.22 z M 415.63 816.22 L 419.17 808.3 L 422.7 816.22 L 419.17 824.08 z" clip-path="url(#p577dcd166d)" style="fill: #73d056; stroke: #73d056; stroke-width: 0.6"/>
<path d="M 419.17 824.08 L 422.7 816.22 L 419.17 808.3 L 415.63 816.22 z" clip-path="url(#p577dcd166d)" style="fill: #d0e11c; stroke: #d0e11c; stroke-width: 0.6"/>
</g>
<g id="matplotlib.axis_3">
<g id="xtick_7">
<g id="line2d_16">
<g>
<path d="M 0 0 L 0 6.5" transform="translate(68.2 1185.6)" style="stroke: #000000; stroke-width: 1.5"/>
</g>
</g>
<g id="text_13">
<text style="font-size: 18.3px; font-family: 'DejaVu Sans', 'Liberation Sans', sans-serif; text-anchor: middle" x="68.2" y="1212.005141" >0.00</text>
</g>
</g>
<g id="xtick_8">
<g id="line2d_17">
<g>
<path d="M 0 0 L 0 6.5" transform="translate(253.433333 1185.6)" style="stroke: #000000; stroke-width: 1.5"/>
</g>
</g>
<g id="text_14">
<text style="font-size: 18.3px; font-family: 'DejaVu Sans', 'Liberation Sans', sans-serif; text-anchor: middle" x="253.433333" y="1212.005141" >0.02</text>
</g>
</g>
<g id="xtick_9">
<g id="line2d_18">
<g>
<path d="M 0 0 L 0 6.5" transform="translate(438.666667 1185.6)" style="stroke: #000000; stroke-width: 1.5"/>
</g>
</g>
<g id="text_15">
<text style="font-size: 18.3px; font-family: 'DejaVu Sans', 'Liberation Sans', sans-serif; text-anchor: middle" x="438.666667" y="1212.005141" >0.04</text>
</g>
</g>
<g id="xtick_10">
<g id="line2d_19">
<g>
<path d="M 0 0 L 0 6.5" transform="translate(623.9 1185.6)" style="stroke: #000000; stroke-width: 1.5"/>
</g>
</g>
<g id="text_16">
<text style="font-size: 18.3px; font-family: 'DejaVu Sans', 'Liberation Sans', sans-serif; text-anchor: middle" x="623.9" y="1212.005141" >0.06</text>
</g>
</g>
<g id="xtick_11">
<g id="line2d_20">
<g>
<path d="M 0 0 L 0 6.5" transform="translate(809.133333 1185.6)" style="stroke: #000000; stroke-width: 1.5"/>
</g>
</g>
<g id="text_17">
<text style="font-size: 18.3px; font-family: 'DejaVu Sans', 'Liberation Sans', sans-serif; text-anchor: middle" x="809.133333" y="1212.005141" >0.08</text>
</g>
</g>
<g id="xtick_12">
<g id="line2d_21">
<g>
<path d="M 0 0 L 0 6.5" transform="translate(994.366667 1185.6)" style="stroke: #000000; stroke-width: 1.5"/>
</g>
</g>
<g id="text_18">
<text style="font-size: 18.3px; font-family: 'DejaVu Sans', 'Liberation Sans', sans-serif; text-anchor: middle" x="994.366667" y="1212.005141" >0.10</text>
</g>
</g>
<g id="xtick_13">
<g id="line2d_22">
<g>
<path d="M 0 0 L 0 6.5" transform="translate(1179.6 1185.6)" style="stroke: #000000; stroke-width: 1.5"/>
</g>
</g>
<g id="text_19">
<text style="font-size: 18.3px; font-family: 'DejaVu Sans', 'Liberation Sans', sans-serif; text-anchor: middle" x="1179.6" y="1212.005141" >0.12</text>
</g>
</g>
</g>
<g id="matplotlib.axis_4">
<g id="ytick_7">
<g id="line2d_23">
<g>
<path d="M 0 0 L -6.5 0" transform="translate(68.2 1185.6)" style="stroke: #000000; stroke-width: 1.5"/>
</g>
</g>
<g id="text_20">
<text style="font-size: 18.3px; font-family: 'DejaVu Sans', 'Liberation Sans', sans-serif; text-anchor: end" x="55.7" y="1192.55257" >0</text>
</g>
</g>
<g id="ytick_8">
<g id="line2d_24">
<g>
<path d="M 0 0 L -6.5 0" transform="translate(68.2 1102.05)" style="stroke: #000000; stroke-width: 1.5"/>
</g>
</g>
<g id="text_21">
<text style="font-size: 18.3px; font-family: 'DejaVu Sans', 'Liberation Sans', sans-serif; text-anchor: end" x="55.7" y="1109.00257" >2</text>
</g>
</g>
<g id="ytick_9">
<g id="line2d_25">
<g>
<path d="M 0 0 L -6.5 0" transform="translate(68.2 1018.5)" style="stroke: #000000; stroke-width: 1.5"/>
</g>
</g>
<g id="text_22">
<text style="font-size: 18.3px; font-family: 'DejaVu Sans', 'Liberation Sans', sans-serif; text-anchor: end" x="55.7" y="1025.45257" >4</text>
</g>
</g>
<g id="ytick_10">
<g id="line2d_26">
<g>
<path d="M 0 0 L -6.5 0" transform="translate(68.2 934.95)" style="stroke: #000000; stroke-width: 1.5"/>
</g>
</g>
<g id="text_23">
<text style="font-size: 18.3px; font-family: 'DejaVu Sans', 'Liberation Sans', sans-serif; text-anchor: end" x="55.7" y="941.90257" >6</text>
</g>
</g>
<g id="ytick_11">
<g id="line2d_27">
<g>
<path d="M 0 0 L -6.5 0" transform="translate(68.2 851.4)" style="stroke: #000000; stroke-width: 1.5"/>
</g>
</g>
<g id="text_24">
<text style="font-size: 18.3px; font-family: 'DejaVu Sans', 'Liberation Sans', sans-serif; text-anchor: end" x="55.7" y="858.35257" >8</text>
</g>
</g>
<g id="ytick_12">
<g id="line2d_28">
<g>
<path d="M 0 0 L -6.5 0" transform="translate(68.2 767.85)" style="stroke: #000000; stroke-width: 1.5"/>
</g>
</g>
<g id="text_25">
<text style="font-size: 18.3px; font-family: 'DejaVu Sans', 'Liberation Sans', sans-serif; text-anchor: end" x="55.7" y="774.80257" >10</text>
</g>
</g>
<g id="ytick_13">
<g id="line2d_29">
<g>
<path d="M 0 0 L -6.5 0" transform="translate(68.2 684.3)" style="stroke: #000000; stroke-width: 1.5"/>
</g>
</g>
<g id="text_26">
<text style="font-size: 18.3px; font-family: 'DejaVu Sans', 'Liberation Sans', sans-serif; text-anchor: end" x="55.7" y="691.25257" >12</text>
</g>
</g>
</g>
<g id="patch_8">
<path d="M 68.2 1185.6 L 68.2 684.3" style="fill: none; stroke: #000000; stroke-width: 1.5; stroke-linejoin: miter; stroke-linecap: square"/>
</g>
<g id="patch_9">
<path d="M 1179.6 1185.6 L 1179.6 684.3" style="fill: none; stroke: #000000; stroke-width: 1.5; stroke-linejoin: miter; stroke-linecap: square"/>
</g>
<g id="patch_10">
<path d="M 68.2 1185.6 L 1179.6 1185.6" style="fill: none; stroke: #000000; stroke-width: 1.5; stroke-linejoin: miter; stroke-linecap: square"/>
</g>
<g id="patch_11">
<path d="M 68.2 684.3 L 1179.6 684.3" style="fill: none; stroke: #000000; stroke-width: 1.5; stroke-linejoin: miter; stroke-linecap: square"/>
</g>
</g>
<g id="patch_12">
<path d="M 1053.3 128.6 L 1165.9 128.6 Q 1169.4 128.6 1169.4 125.1 L 1169.4 46.4 Q 1169.4 42.9 1165.9 42.9 L 1053.3 42.9 Q 1049.8 42.9 1049.8 46.4 L 1049.8 125.1 Q 1049.8 128.6 1053.3 128.6 z" style="fill: #ffffff; opacity: 0.8; stroke: #cccccc; stroke-width: 1.4; stroke-linejoin: miter"/>
</g>
<g id="line2d_30">

<g>
<path d="M -11 11 L 11 11 L 11 -11 L -11 -11 z" transform="translate(1075.6 59.2)" style="fill: #708090; stroke: #000000; stroke-width: 1.3; stroke-linejoin: miter"/>
</g>
</g>
<g id="line2d_31">

<g>
<path d="M 0 -11 L -11 11 L 11 11 z" transform="translate(1075.6 86.3)" style="fill: #228b22; stroke: #000000; stroke-width: 1.3; stroke-linejoin: miter"/>
</g>
</g>
<g id="line2d_32">

<g>
<path d="M 0 11 C 2.92 11 5.72 9.84 7.78 7.78 C 9.84 5.72 11 2.92 11 0 C 11 -2.92 9.84 -5.72 7.78 -7.78 C 5.72 -9.84 2.92 -11 0 -11 C -2.92 -11 -5.72 -9.84 -7.78 -7.78 C -9.84 -5.72 -11 -2.92 -11 0 C -11 2.92 -9.84 5.72 -7.78 7.78 C -5.72 9.84 -2.92 11 0 11 z" transform="translate(1075.6 113)" style="fill: #8a2be2; stroke: #000000; stroke-width: 1.3"/>
</g>
</g>
<g id="text_27">
<text style="font-size: 29.3px; font-family: 'DejaVu Sans', 'Liberation Sans', sans-serif; text-anchor: start" x="311.2" y="24.6" >Estimated Parameters of 2,4,6-PDE Models</text>
</g>
<g id="text_28">
<text style="font-size: 29.4px; font-family: 'DejaVu Sans', 'Liberation Sans', sans-serif; text-anchor: start" x="213.6" y="668.8" >Estimated Distribution using Prokhorov Metric Framework</text>
</g>
<g id="text_29">
<text style="font-size: 25.4px; font-family: 'DejaVu Sans', 'Liberation Sans', sans-serif; text-anchor: middle" x="623.1" y="592.6" >Diffusion (D)</text>
</g>
<g id="text_30">
<text style="font-size: 25.4px; font-family: 'DejaVu Sans', 'Liberation Sans', sans-serif; text-anchor: middle" x="623.3" y="1242.8" >Diffusion</text>
</g>
<g id="text_31">
<text style="font-size: 25.4px; font-family: 'DejaVu Sans', 'Liberation Sans', sans-serif; text-anchor: middle" x="20.6" y="285.5" transform="rotate(-90 20.6 285.5)">Growth rate (rho)</text>
</g>
<g id="text_32">
<text style="font-size: 25.4px; font-family: 'DejaVu Sans', 'Liberation Sans', sans-serif; text-anchor: middle" x="20.5" y="935.3" transform="rotate(-90 20.5 935.3)">Growth rate</text>
</g>
<g id="text_33">
<text style="font-size: 37.5px; font-family: 'Liberation Sans', Arial, sans-serif; text-anchor: start" x="6.5" y="29.7" >(a)</text>
</g>
<g id="text_34">
<text style="font-size: 37.5px; font-family: 'Liberation Sans', Arial, sans-serif; text-anchor: start" x="6.25" y="661.4" >(b)</text>
</g>
<g id="text_35">
<text style="font-size: 18.2px; font-family: 'DejaVu Sans', 'Liberation Sans', sans-serif; text-anchor: start" x="1107.4" y="63.9" >2-PDE</text>
</g>
<g id="text_36">
<text style="font-size: 18.2px; font-family: 'DejaVu Sans', 'Liberation Sans', sans-serif; text-anchor: start" x="1107.4" y="90.9" >4-PDE</text>
</g>
<g id="text_37">
<text style="font-size: 18.2px; font-family: 'DejaVu Sans', 'Liberation Sans', sans-serif; text-anchor: start" x="1107.4" y="117.9" >6-PDE</text>
</g>
</g>
<defs>
<clipPath id="pd47a79ee58">
<rect x="68.25" y="34.4" width="1109.65" height="501.85"/>
</clipPath>
<clipPath id="p577dcd166d">
<rect x="68.2" y="684.3" width="1111.4" height="501.3"/>
</clipPath>
</defs>
</svg>

</body></html>
